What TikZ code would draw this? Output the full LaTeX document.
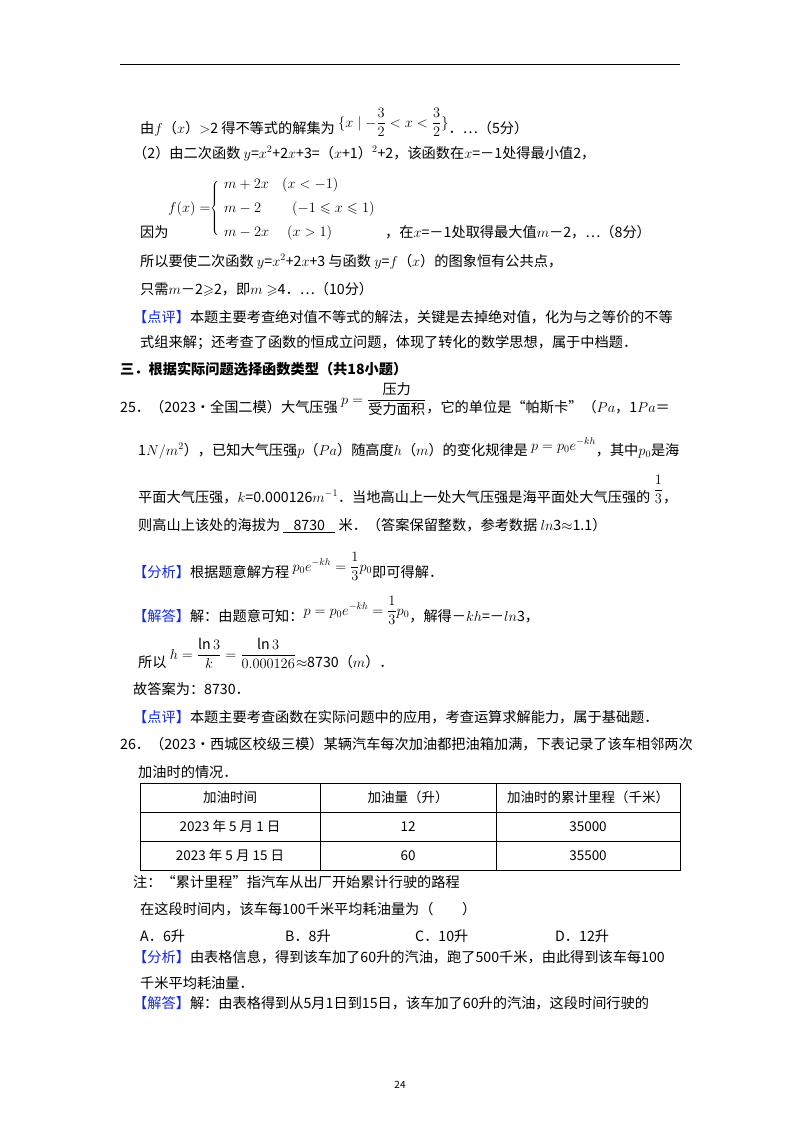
\documentclass[tikz,border=0pt]{standalone}
\usepackage{amsmath,amssymb}
\usepackage{fontspec}
\setmainfont{Noto Sans CJK SC}
\definecolor{tagblue}{RGB}{20,40,230}
\begin{document}
\begin{tikzpicture}[x=1pt,y=-1pt,
  t/.style={anchor=base west,inner sep=0pt,font=\fontsize{14.2}{16}\selectfont},
  hd/.style={t,font=\fontsize{14.2}{16}\selectfont\bfseries},
  cell/.style={anchor=base,inner sep=0pt,font=\fontsize{13.5}{16}\selectfont}]
\useasboundingbox (0,0) rectangle (800,1132);
\fill[white] (0,0) rectangle (800,1132);
\draw[line width=1pt] (120,65) -- (680,65);
\node[t] (l1) at (140,133) {由$f$（$x$）$>$2 得不等式的解集为 \raisebox{6pt}{$\{x\mid -\dfrac{3}{2}<x<\dfrac{3}{2}\}$}．…（5分）};
\node[t] (l2) at (133,158) {（2）由二次函数 $y$=$x^2$+2$x$+3=（$x$+1）$^2$+2，该函数在$x$=－1处得最小值2，};
\node[t] (l3) at (140,237) {因为};
\node[t] (pf) at (168,212) {$f(x)=$};
\node[anchor=west,inner sep=0pt] (br) at (210,208) {$\left\{\rule{0pt}{30pt}\right.$};
\node[t] (p1) at (224,188) {$m+2x$};
\node[t] (p1c) at (282,188) {$(x<-1)$};
\node[t] (p2) at (224,212) {$m-2$};
\node[t] (p2c) at (292,212) {$(-1\leqslant x\leqslant 1)$};
\node[t] (p3) at (224,236) {$m-2x$};
\node[t] (p3c) at (287,236) {$(x>1)$};
\node[t] (l3b) at (385,237) {，在$x$=－1处取得最大值$m$－2，…（8分）};
\node[t] (l4) at (140,266) {所以要使二次函数 $y$=$x^2$+2$x$+3 与函数 $y$=$f$（$x$）的图象恒有公共点，};
\node[t] (l5) at (140,294) {只需$m$－2$\geqslant$2，即$m\geqslant$4．…（10分）};
\node[t] (l6) at (133,322) {\textcolor{tagblue}{【点评】}本题主要考查绝对值不等式的解法，关键是去掉绝对值，化为与之等价的不等};
\node[t] (l7) at (140,347) {式组来解；还考查了函数的恒成立问题，体现了转化的数学思想，属于中档题．};
\node[hd] (h3) at (120,374) {三．根据实际问题选择函数类型（共18小题）};
\node[t] (q1) at (120,412) {25．（2023•全国二模）大气压强 \raisebox{8pt}{$p=\dfrac{\text{压力}}{\text{受力面积}}$}，它的单位是“帕斯卡”（$Pa$，1$Pa$＝};
\node[t] (q2) at (138,455) {1$N/m^2$），已知大气压强$p$（$Pa$）随高度$h$（$m$）的变化规律是 \raisebox{5pt}{$p=p_0e^{-kh}$}，其中$p_0$是海};
\node[t] (q3) at (138,502) {平面大气压强，$k$=0.000126$m^{-1}$．当地高山上一处大气压强是海平面处大气压强的 \raisebox{8pt}{$\dfrac{1}{3}$}，};
\node[t] (q4) at (138,530) {则高山上该处的海拔为 \underline{\makebox[52pt]{8730}} 米．（答案保留整数，参考数据 $ln$3$\approx$1.1）};
\node[t] (a1) at (133,577) {\textcolor{tagblue}{【分析】}根据题意解方程 \raisebox{6pt}{$p_0e^{-kh}=\dfrac{1}{3}p_0$}即可得解．};
\node[t] (a2) at (133,621) {\textcolor{tagblue}{【解答】}解：由题意可知：\raisebox{6pt}{$p=p_0e^{-kh}=\dfrac{1}{3}p_0$}，解得－$kh$=－$ln$3，};
\node[t] (a3) at (138,667) {所以 \raisebox{8pt}{$h=\dfrac{\ln 3}{k}=\dfrac{\ln 3}{0.000126}$}$\approx$8730（$m$）．};
\node[t] (a4) at (133,694) {故答案为：8730．};
\node[t] (a5) at (133,722) {\textcolor{tagblue}{【点评】}本题主要考查函数在实际问题中的应用，考查运算求解能力，属于基础题．};
\node[t] (b1) at (120,749) {26．（2023•西城区校级三模）某辆汽车每次加油都把油箱加满，下表记录了该车相邻两次};
\node[t] (b2) at (138,777) {加油时的情况．};
\draw[line width=0.8pt] (140,783) rectangle (680,870);
\draw[line width=0.6pt] (140,812) -- (680,812) (140,841) -- (680,841) (320,783) -- (320,870) (496,783) -- (496,870);
\node[cell] (c11) at (230,802) {加油时间};
\node[cell] (c12) at (408,802) {加油量（升）};
\node[cell] (c13) at (588,802) {加油时的累计里程（千米）};
\node[cell] (c21) at (230,831) {2023 年 5 月 1 日};
\node[cell] (c22) at (408,831) {12};
\node[cell] (c23) at (588,831) {35000};
\node[cell] (c31) at (230,860) {2023 年 5 月 15 日};
\node[cell] (c32) at (408,860) {60};
\node[cell] (c33) at (588,860) {35500};
\node[t] (n1) at (133,887) {注：“累计里程”指汽车从出厂开始累计行驶的路程};
\node[t] (n2) at (140,914) {在这段时间内，该车每100千米平均耗油量为（\qquad）};
\node[t] (oa) at (140,941) {A．6升};
\node[t] (ob) at (285,941) {B．8升};
\node[t] (oc) at (415,941) {C．10升};
\node[t] (od) at (555,941) {D．12升};
\node[t] (f1) at (133,962) {\textcolor{tagblue}{【分析】}由表格信息，得到该车加了60升的汽油，跑了500千米，由此得到该车每100};
\node[t] (f2) at (140,988) {千米平均耗油量．};
\node[t] (f3) at (133,1008) {\textcolor{tagblue}{【解答】}解：由表格得到从5月1日到15日，该车加了60升的汽油，这段时间行驶的};
\node[anchor=base,inner sep=0pt,font=\fontsize{10}{12}\selectfont] (pg) at (400,1088) {24};
\end{tikzpicture}
\end{document}
